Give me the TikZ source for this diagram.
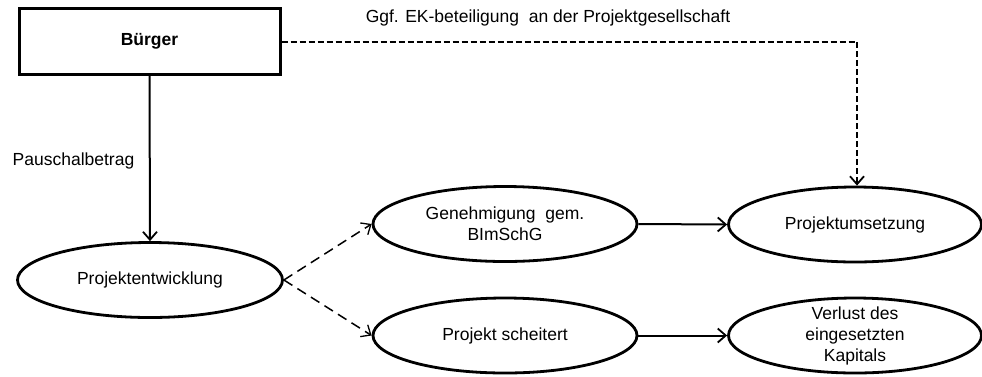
\documentclass[tikz,border=0pt]{standalone}
\usepackage{fontspec}
\setmainfont{Liberation Sans}
\usetikzlibrary{shapes.geometric,arrows.meta}

\begin{document}
\begin{tikzpicture}[x=1pt,y=-1pt,
  font=\fontsize{17.5}{21}\selectfont,
  boxnode/.style={draw, line width=3pt, rectangle, minimum width=261pt, minimum height=66pt, inner sep=0pt},
  ellnode/.style={draw, line width=2.8pt, ellipse, minimum width=#1, minimum height=75pt, inner sep=0pt},
  ellnode/.default=264pt,
  arr/.style={line width=2pt, -{Straight Barb[length=8pt,width=14pt,line width=1.8pt]}},
  dasharr/.style={line width=1.5pt, dash pattern=on 10pt off 6pt, -{Straight Barb[length=8pt,width=14pt,line width=1.3pt]}},
  topdash/.style={line width=2pt, dash pattern=on 6pt off 3pt, -{Straight Barb[length=8pt,width=14pt,line width=1.8pt]}},
  lbl/.style={align=center, inner sep=0pt}
]
\useasboundingbox (0,0) rectangle (982,376);

% nodes
\node[boxnode] (buerger) at (149.5,41.5) {\bfseries Bürger};
\node[ellnode=265pt] (entw) at (150,280) {};
\node[lbl] at (entw) {Projektentwicklung};
\node[ellnode] (gen) at (505,224) {};
\node[lbl] at (gen) {Genehmigung\ \ gem.\\BImSchG};
\node[ellnode] (scheit) at (505,335.5) {};
\node[lbl] at (scheit) {Projekt scheitert};
\node[ellnode=253pt] (umsetz) at (855,224.5) {};
\node[lbl] at (umsetz) {Projektumsetzung};
\node[ellnode=253pt] (verlust) at (855,335.5) {};
\node[lbl] at (verlust) {Verlust des\\eingesetzten\\Kapitals};

% labels
\node[lbl] (pausch) at (73.5,161) {Pauschalbetrag};
\node[lbl] (ek) at (548,18) {Ggf. EK-beteiligung\ \ an der Projektgesellschaft};

% connectors
\draw[arr] (buerger.south) -- (entw.north);
\draw[topdash] (buerger.east) -| ([xshift=2pt]umsetz.north);
\draw[dasharr] (entw.east) -- (gen.west);
\draw[dasharr] (entw.east) -- (scheit.west);
\draw[arr] (gen.east) -- (umsetz.west);
\draw[arr] (scheit.east) -- (verlust.west);
\end{tikzpicture}
\end{document}
